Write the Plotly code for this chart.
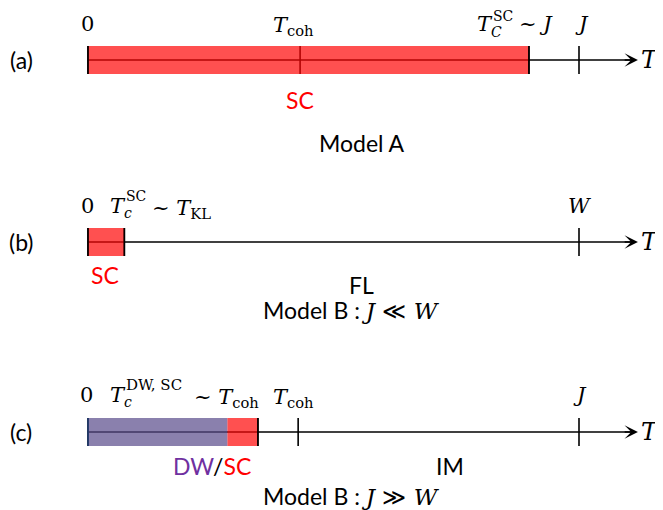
import plotly.graph_objects as go

# ---- data: temperatures on each axis, in units where J (or W) = 100 ----
panel_labels = ["(a)", "(b)", "(c)"]
axis_end = 112

a_ticks = [0, 43.2, 89.8, 100]          # 0, T_coh, T_c^SC ~ J, J
a_sc = [0, 89.8]

b_ticks = [0, 7.4, 100]                 # 0, T_c^SC ~ T_KL, W
b_sc = [0, 7.4]

c_ticks = [0, 34.6, 42.8, 100]          # 0, T_c^{DW,SC} ~ T_coh, T_coh, J
c_dw = [0, 28.4]
c_sc = [28.4, 34.6]

# ---- layout constants (page pixels) ----
PAGE_W, PAGE_H = 663, 510
OFF = 8                                  # default body margin of the page
W, H = PAGE_W - OFF, PAGE_H - OFF
X0_PX, X100_PX = 88, 579
scale = (X100_PX - X0_PX) / 100.0
xrange = [-(X0_PX - OFF) / scale, (W - (X0_PX - OFF)) / scale]
rows = [60, 242, 432]
half = 14

RED = "rgba(255,5,5,0.7)"
PURPLE = "rgba(89,74,138,0.7)"
SERIF = "DejaVu Serif"
SANS = "Lato"
SZ_SANS = 23
SZ_MATH = 21
SZ_SCRIPT = 14

shapes = []
ann = []


def px(x):
    return (x - OFF) / W


def py(y):
    return 1 - (y - OFF) / H


def vline(v, row, color="black", width=1.6):
    shapes.append(dict(type="line", xref="x", yref="y", x0=v, x1=v,
                       y0=row - half, y1=row + half,
                       line=dict(color=color, width=width)))


def bar(span, row, color):
    shapes.append(dict(type="rect", xref="x", yref="y", x0=span[0], x1=span[1],
                       y0=row - half, y1=row + half, fillcolor=color,
                       line=dict(width=0)))


def text(s, x, y, size=SZ_SANS, family=SANS, color="black", xanchor="center"):
    ann.append(dict(text=s, x=px(x), y=py(y), xref="paper", yref="paper",
                    xanchor=xanchor, yanchor="middle", showarrow=False,
                    font=dict(family=family, size=size, color=color)))


def axis(row):
    shapes.append(dict(type="line", xref="x", yref="y", x0=0, x1=axis_end - 1.0,
                       y0=row, y1=row, line=dict(color="black", width=1.6)))
    ann.append(dict(x=axis_end, y=row, xref="x", yref="y", ax=axis_end - 3, ay=row,
                    axref="x", ayref="y", showarrow=True, arrowhead=3,
                    arrowsize=1.4, arrowwidth=1.6, arrowcolor="black", text=""))


# Panel (a)
r = rows[0]
axis(r)
for t in a_ticks:
    vline(t, r)
bar(a_sc, r, RED)
vline(a_sc[0], r)
vline(a_sc[1], r)

# Panel (b)
r = rows[1]
axis(r)
for t in b_ticks:
    vline(t, r)
bar(b_sc, r, RED)
vline(b_sc[0], r)
vline(b_sc[1], r)

# Panel (c)
r = rows[2]
axis(r)
for t in c_ticks:
    vline(t, r)
bar(c_dw, r, PURPLE)
bar(c_sc, r, RED)
vline(c_dw[0], r, color="#1f3a6e")
vline(c_sc[1], r)

# ---- texts ----
for lab, r in zip(panel_labels, rows):
    text(lab, 21, r)
    text("<i>T</i>", 650, r, size=24, family=SERIF)

# (a)
text("0", 87, 24, size=SZ_MATH, family=SERIF)
text("<i>T</i><sub>coh</sub>", 271, 26, size=SZ_MATH, family=SERIF, xanchor="left")
text("<i>T</i>", 475, 24, size=SZ_MATH, family=SERIF, xanchor="left")
text("SC", 491, 16, size=SZ_SCRIPT, family=SERIF, xanchor="left")
text("<i>C</i>", 489, 32, size=SZ_SCRIPT, family=SERIF, xanchor="left")
text("~ <i>J</i>", 517, 24, size=SZ_MATH, family=SERIF, xanchor="left")
text("<i>J</i>", 582, 24, size=SZ_MATH, family=SERIF)
text("SC", 300, 100, color="#ff0000")
text("Model A", 362, 143)

# (b)
text("0", 87, 206, size=SZ_MATH, family=SERIF)
text("<i>T</i>", 108, 206, size=SZ_MATH, family=SERIF, xanchor="left")
text("SC", 124, 196, size=SZ_SCRIPT, family=SERIF, xanchor="left")
text("<i>c</i>", 122, 213, size=SZ_SCRIPT, family=SERIF, xanchor="left")
text("~ <i>T</i><sub>KL</sub>", 150, 209, size=SZ_MATH, family=SERIF, xanchor="left")
text("<i>W</i>", 580, 206, size=SZ_MATH, family=SERIF)
text("SC", 105, 275, color="#ff0000")
text("FL", 362, 285)
text("Model B : <span style='font-family:DejaVu Serif'><i>J</i> ≪ <i>W</i></span>",
     351, 310)

# (c)
text("0", 86, 395, size=SZ_MATH, family=SERIF)
text("<i>T</i>", 108, 395, size=SZ_MATH, family=SERIF, xanchor="left")
text("DW, SC", 124, 385, size=15, family=SERIF, xanchor="left")
text("<i>c</i>", 122, 402, size=SZ_SCRIPT, family=SERIF, xanchor="left")
text("~ <i>T</i><sub>coh</sub>", 192, 398, size=SZ_MATH, family=SERIF, xanchor="left")
text("<i>T</i><sub>coh</sub>", 271, 398, size=SZ_MATH, family=SERIF, xanchor="left")
text("<i>J</i>", 580, 395, size=SZ_MATH, family=SERIF)
text("<span style='color:#7030a0'>DW</span>/<span style='color:#ff0000'>SC</span>",
     212, 466)
text("IM", 450, 466)
text("Model B : <span style='font-family:DejaVu Serif'><i>J</i> ≫ <i>W</i></span>",
     351, 496)

fig = go.Figure()
fig.update_layout(
    width=W, height=H, margin=dict(l=0, r=0, t=0, b=0),
    paper_bgcolor="white", plot_bgcolor="white",
    xaxis=dict(range=xrange, visible=False, fixedrange=True),
    yaxis=dict(range=[H + OFF, OFF], visible=False, fixedrange=True),
    shapes=shapes, annotations=ann, showlegend=False,
)
fig.write_html("out.html")
